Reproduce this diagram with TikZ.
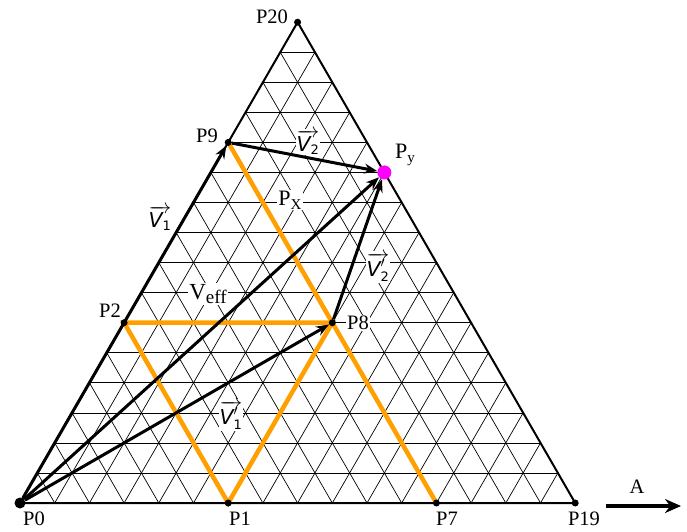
\documentclass[tikz,border=0pt]{standalone}
\usepackage{fontspec}
\setmainfont{Liberation Serif}
\newfontfamily\vfont{DejaVu Sans}
\usetikzlibrary{arrows.meta,backgrounds}
\definecolor{pathorange}{RGB}{255,160,0}
\definecolor{pymagenta}{RGB}{255,0,255}
\newcommand{\vsym}[2]{$\overrightarrow{\mbox{\vfont\itshape V}#1_{\mbox{\vfont\fontsize{13}{13}\selectfont #2}}}$}
\newcommand{\psub}[2]{#1{\fontsize{15}{15}\selectfont\raisebox{-4pt}{#2}}}

\begin{document}
\begin{tikzpicture}[x={(34.7pt,0pt)},y={(17.35pt,30.05pt)},
	font=\fontsize{20.5}{24}\selectfont,
	gridline/.style={black,line width=0.7pt},
	edge/.style={black,line width=2pt},
	mixline/.style={pathorange,line width=4.5pt},
	vecline/.style={black,line width=3pt,-{Stealth[length=13pt,width=10pt]}},
	dot/.style={circle,fill=black,inner sep=0pt,minimum size=7pt},
	lab/.style={fill=white,inner sep=1pt}]
	\useasboundingbox (-20pt,-28pt) rectangle (667pt,503pt);
	% points of the grid
	\node[dot,minimum size=11pt] (P0) at (0,0) {};
	\node[dot] (P1) at (6,0) {};
	\node[dot] (P7) at (12,0) {};
	\node[dot] (P19) at (16,0) {};
	\node[dot] (P20) at (0,16) {};
	\node[dot] (P9) at (0,12) {};
	\node[dot] (P2) at (0,6) {};
	\node[dot] (P8) at (6,6) {};
	\node[dot,fill=pymagenta,minimum size=14pt] (Py) at (5,11) {};
	\begin{pgfonlayer}{background}
		\foreach \k in {1,...,15}{
			\draw[gridline] (0,\k) -- (16-\k,\k);
			\draw[gridline] (\k,0) -- (\k,16-\k);
			\draw[gridline] (0,\k) -- (\k,0);
		}
		\draw[mixline] (P9.center) -- (P7.center);
		\draw[mixline] (P2.center) -- (P8.center) -- (P1.center) -- cycle;
		\draw[edge] (P0.center) -- (P19.center) -- (P20.center) -- cycle;
	\end{pgfonlayer}
	% labels
	\node (lP0) at (14pt,-16pt) {P0};
	\node (lP1) at (220pt,-16pt) {P1};
	\node (lP7) at (427pt,-16pt) {P7};
	\node (lP19) at (564pt,-16pt) {P19};
	\node (lP20) at (252pt,486pt) {P20};
	\node (lP9) at (187pt,367pt) {P9};
	\node (lP2) at (90pt,192pt) {P2};
	\node[lab] (lP8) at (338pt,180pt) {P8};
	\node[font=\fontsize{22}{24}\selectfont] (lPy) at (385pt,348pt) {\psub{P}{y}};
	\node[lab,font=\fontsize{22}{24}\selectfont] (lPx) at (270pt,303pt) {\psub{P}{X}};
	\node[lab,font=\fontsize{23}{24}\selectfont] (lVeff) at (188pt,209pt) {V{\fontsize{19}{19}\selectfont\raisebox{-4pt}{eff}}};
	\node[lab] (lV1) at (140pt,285pt) {\vsym{}{1}};
	\node[lab] (lV2) at (288pt,361pt) {\vsym{}{2}};
	\node[lab] (lV1p) at (211pt,88pt) {\vsym{'}{1}};
	\node[lab] (lV2p) at (358pt,236pt) {\vsym{'}{2}};
	% vectors
	\draw[vecline] (P0) -- (P9);
	\draw[vecline] (P9) -- (Py);
	\draw[vecline] (P0) -- (Py);
	\draw[vecline] (P0) -- (P8);
	\draw[vecline] (P8) -- (Py);
	% axis arrow
	\coordinate (A0) at (586pt,-3pt);
	\coordinate (A1) at (661pt,-3pt);
	\draw[line width=3.5pt,-{Stealth[length=16pt,width=14pt]}] (A0) -- (A1);
	\node (lA) at (617pt,16pt) {A};
\end{tikzpicture}
\end{document}
